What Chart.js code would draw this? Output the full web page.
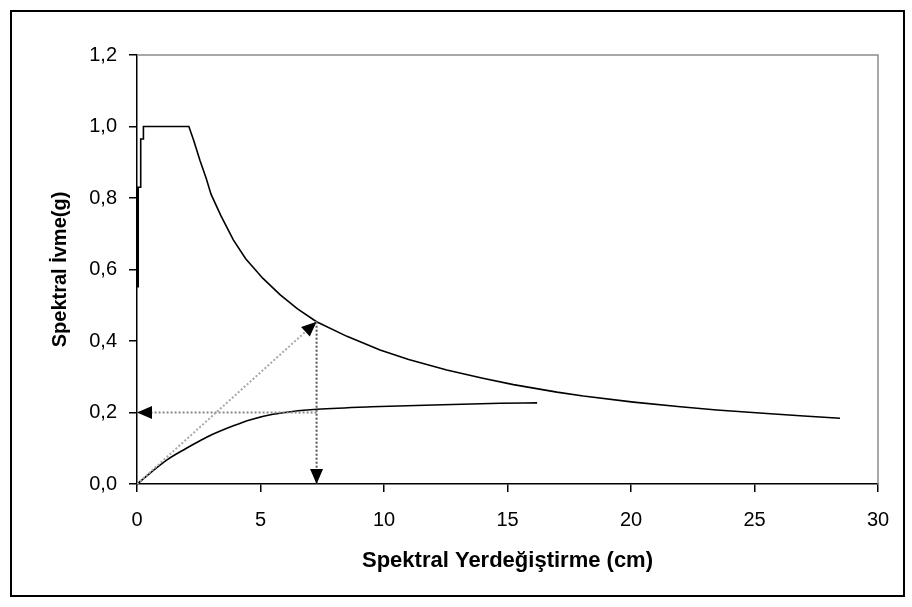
<!DOCTYPE html>
<html>
<head>
<meta charset="utf-8">
<script src="https://cdn.jsdelivr.net/npm/chart.js@4/dist/chart.umd.min.js"></script>
<style>
html,body{margin:0;padding:0;background:#fff;}
#wrap{position:relative;width:912px;height:607px;}
</style>
</head>
<body>
<div id="wrap"><canvas id="c" width="912" height="607"></canvas></div>
<script>
// ---- data ----
const demandX = [0, 0, 0.15, 0.15, 0.26, 0.26, 2.1, 2.3, 2.55, 2.8, 3.0, 3.4, 3.9, 4.4, 5.1, 5.8, 6.5, 7.27, 8.5, 9.84, 11, 12.54, 14, 15.24, 17, 18.07, 20.1, 22, 23.47, 25.5, 27, 28.46];
const demandY = [0.55, 0.83, 0.83, 0.965, 0.965, 1.0, 1.0, 0.96, 0.905, 0.855, 0.81, 0.75, 0.683, 0.63, 0.575, 0.529, 0.49, 0.454, 0.413, 0.375, 0.348, 0.319, 0.296, 0.278, 0.257, 0.246, 0.229, 0.216, 0.207, 0.197, 0.19, 0.184];

const capacityX = [0, 1.2, 2.0, 2.55, 3.0, 3.9, 4.6, 5.5, 6.3, 7.3, 9.5, 12.0, 14.7, 16.2];
const capacityY = [0, 0.067, 0.100, 0.121, 0.137, 0.163, 0.180, 0.195, 0.203, 0.209, 0.216, 0.221, 0.226, 0.227];

// performance point construction (arrows)
const diagArrowX = [0, 7.27];
const diagArrowY = [0, 0.454];
const vertArrowX = [7.27, 7.27];
const vertArrowY = [0.454, 0];
const horizArrowX = [7.27, 0];
const horizArrowY = [0.2, 0.2];

const xTickLabels = ['0', '5', '10', '15', '20', '25', '30'];
const yTickLabels = ['0,0', '0,2', '0,4', '0,6', '0,8', '1,0', '1,2'];

const xTitle = 'Spektral Yerdeğiştirme (cm)';
const yTitle = 'Spektral İvme(g)';

const toPts = (xs, ys) => xs.map((x, i) => ({x: x, y: ys[i]}));

const FONT = "'Liberation Sans', Arial, sans-serif";

const framePlugin = {
  id: 'frame',
  beforeDraw(chart) {
    const ctx = chart.ctx;
    ctx.save();
    ctx.fillStyle = '#fff';
    ctx.fillRect(0, 0, chart.width, chart.height);
    ctx.strokeStyle = '#000';
    ctx.lineWidth = 2;
    ctx.strokeRect(11, 11, 893, 585);
    ctx.restore();
  },
  afterDraw(chart) {
    const a = chart.chartArea, ctx = chart.ctx;
    ctx.save();
    ctx.strokeStyle = '#8c8c8c';
    ctx.lineWidth = 1.5;
    ctx.beginPath();
    ctx.moveTo(a.left, a.top);
    ctx.lineTo(a.right, a.top);
    ctx.lineTo(a.right, a.bottom);
    ctx.stroke();
    ctx.restore();
  }
};

const arrowPlugin = {
  id: 'arrowheads',
  afterDatasetsDraw(chart) {
    const ctx = chart.ctx;
    chart.data.datasets.forEach((ds, i) => {
      if (!ds.arrow) return;
      const pts = chart.getDatasetMeta(i).data;
      const p1 = pts[pts.length - 2], p2 = pts[pts.length - 1];
      const ang = Math.atan2(p2.y - p1.y, p2.x - p1.x);
      const L = 15, W = 6.5;
      ctx.save();
      ctx.translate(p2.x, p2.y);
      ctx.rotate(ang);
      ctx.fillStyle = '#000';
      ctx.beginPath();
      ctx.moveTo(0, 0);
      ctx.lineTo(-L, -W);
      ctx.lineTo(-L, W);
      ctx.closePath();
      ctx.fill();
      ctx.restore();
    });
  }
};

new Chart(document.getElementById('c'), {
  type: 'scatter',
  data: {
    datasets: [
      {data: toPts(diagArrowX, diagArrowY), showLine: true, borderColor: '#a8a8a8', borderWidth: 2, borderDash: [2, 2], pointRadius: 0, arrow: true},
      {data: toPts(horizArrowX, horizArrowY), showLine: true, borderColor: '#8a8a8a', borderWidth: 2, borderDash: [2, 2], pointRadius: 0, arrow: true},
      {data: toPts(vertArrowX, vertArrowY), showLine: true, borderColor: '#555', borderWidth: 2, borderDash: [2, 2], pointRadius: 0, arrow: true},
      {data: toPts(demandX, demandY), showLine: true, borderColor: '#000', borderWidth: 1.6, pointRadius: 0, tension: 0,
        segment: {borderWidth: (c) => c.p0DataIndex === 0 ? 4 : 1.6}},
      {data: toPts(capacityX, capacityY), showLine: true, borderColor: '#000', borderWidth: 1.6, pointRadius: 0, cubicInterpolationMode: 'monotone'}
    ]
  },
  options: {
    responsive: false,
    animation: false,
    layout: {padding: {left: 44, right: 34, top: 55, bottom: 29}},
    plugins: {legend: {display: false}, tooltip: {enabled: false}},
    scales: {
      x: {
        type: 'linear', min: 0, max: 30,
        ticks: {stepSize: 5, color: '#000', font: {family: FONT, size: 20}, padding: 16,
          callback: (v) => xTickLabels[Math.round(v / 5)]},
        grid: {drawOnChartArea: false, drawTicks: true, tickLength: 8, color: '#000', lineWidth: 1.5},
        border: {display: true, color: '#000', width: 1.5},
        title: {display: true, text: xTitle, color: '#000', font: {family: FONT, size: 22, weight: 'bold'}, padding: {top: 4, bottom: 4}},
        afterFit: (s) => { s.height = 94; }
      },
      y: {
        type: 'linear', min: 0, max: 1.2,
        ticks: {stepSize: 0.2, color: '#000', font: {family: FONT, size: 20}, padding: 12,
          callback: (v) => yTickLabels[Math.round(v / 0.2)]},
        grid: {drawOnChartArea: false, drawTicks: true, tickLength: 8, color: '#000', lineWidth: 1.5},
        border: {display: true, color: '#000', width: 1.5},
        title: {display: true, text: yTitle, color: '#000', font: {family: FONT, size: 20, weight: 'bold'}, padding: {top: 4, bottom: 4}},
        afterFit: (s) => { s.width = 93; }
      }
    }
  },
  plugins: [framePlugin, arrowPlugin]
});
</script>
</body>
</html>
